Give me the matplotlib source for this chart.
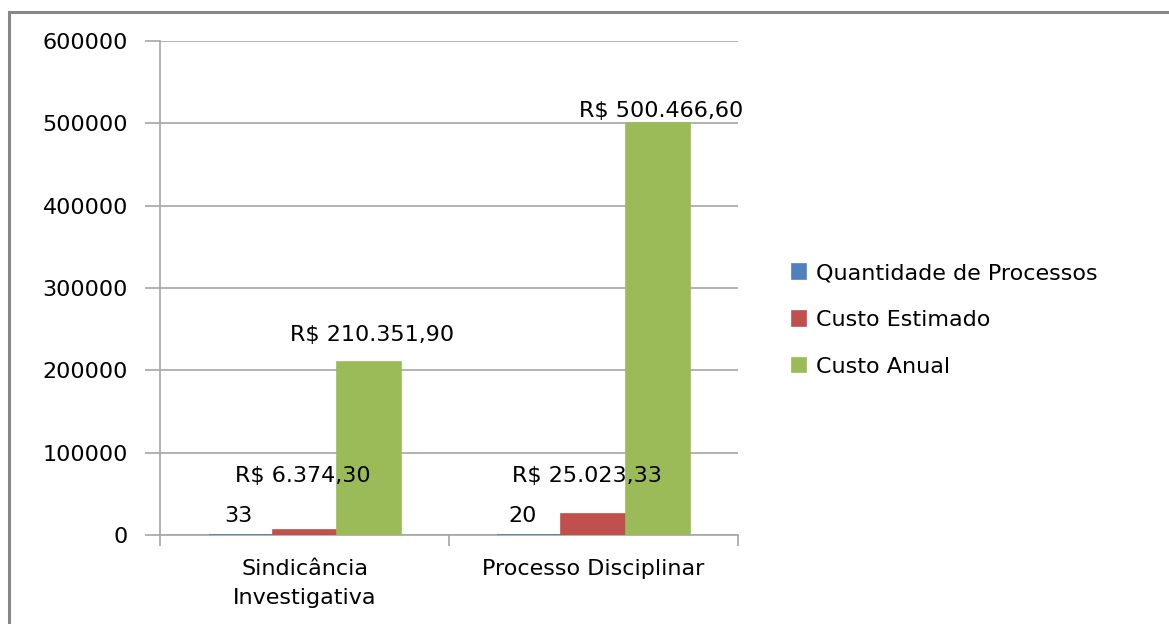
import numpy as np
import matplotlib
matplotlib.use('Agg')
from matplotlib import pyplot as plt
from matplotlib.patches import Rectangle

categories = ['Sindicância\nInvestigativa', 'Processo Disciplinar']
series_names = ['Quantidade de Processos', 'Custo Estimado', 'Custo Anual']
quantidade = [33, 20]
custo_estimado = [6374.30, 25023.33]
custo_anual = [210351.90, 500466.60]
label_quantidade = ['33', '20']
label_estimado = ['R$ 6.374,30', 'R$ 25.023,33']
label_anual = ['R$ 210.351,90', 'R$ 500.466,60']
yticks = [0, 100000, 200000, 300000, 400000, 500000, 600000]

colors = ['#4F81BD', '#C0504D', '#9BBB59']
grid_color = '#A6A6A6'
FS = 16

plt.rcParams['font.family'] = ['DejaVu Sans']

fig = plt.figure(figsize=(11.69, 6.24), dpi=100)
ax = fig.add_axes([0.1369, 0.1426, 0.4944, 0.7917])

x = np.arange(len(categories))
w = 0.2215
series = [quantidade, custo_estimado, custo_anual]
for i, vals in enumerate(series):
    ax.bar(x + (i - 1) * w, vals, width=w, color=colors[i], edgecolor=colors[i],
           linewidth=1.2, label=series_names[i], zorder=3)

# data labels (offsets in pixels, as placed in the original)
offs_q = [(-2, 19), (-7, 19)]
offs_e = [(-2, 54), (-7, 38)]
offs_a = [(4, 27), (4, 12)]
for j in range(len(categories)):
    ax.annotate(label_quantidade[j], (x[j] - w, quantidade[j]), xytext=offs_q[j],
                textcoords='offset pixels', ha='center', va='center', fontsize=FS, zorder=4)
    ax.annotate(label_estimado[j], (x[j], custo_estimado[j]), xytext=offs_e[j],
                textcoords='offset pixels', ha='center', va='center', fontsize=FS, zorder=4)
    ax.annotate(label_anual[j], (x[j] + w, custo_anual[j]), xytext=offs_a[j],
                textcoords='offset pixels', ha='center', va='center', fontsize=FS, zorder=4)

ax.set_xlim(-0.5, len(categories) - 0.5)
ax.set_ylim(0, 600000)
ax.set_yticks(yticks)
ax.set_yticklabels([str(v) for v in yticks], fontsize=FS)
ax.yaxis.grid(True, color=grid_color, linewidth=1.2, zorder=0)
ax.set_axisbelow(True)

ax.set_xticks(x)
ax.set_xticklabels(categories, fontsize=FS, linespacing=1.6)
ax.tick_params(axis='x', length=0, pad=17)
ax.set_xticks(np.arange(-0.5, len(categories), 1.0), minor=True)
ax.tick_params(axis='x', which='minor', length=8, color=grid_color, width=1.2)
ax.tick_params(axis='y', length=11, color=grid_color, width=1.2, pad=12)

for s in ['top', 'right']:
    ax.spines[s].set_visible(False)
for s in ['left', 'bottom']:
    ax.spines[s].set_color(grid_color)
    ax.spines[s].set_linewidth(1.2)

fig.legend(loc='center left', bbox_to_anchor=(0.66, 0.487), frameon=False,
           fontsize=FS, handlelength=0.65, handleheight=0.65, handletextpad=0.45,
           labelspacing=1.2)

# outer chart border (top and left visible in the original crop)
fig.patches.append(Rectangle((9 / 1169, -0.1), 1.2, 1.1 - 12 / 624, transform=fig.transFigure,
                             fill=False, edgecolor='#878787', linewidth=2.2))

fig.savefig('out.png', dpi=100)
